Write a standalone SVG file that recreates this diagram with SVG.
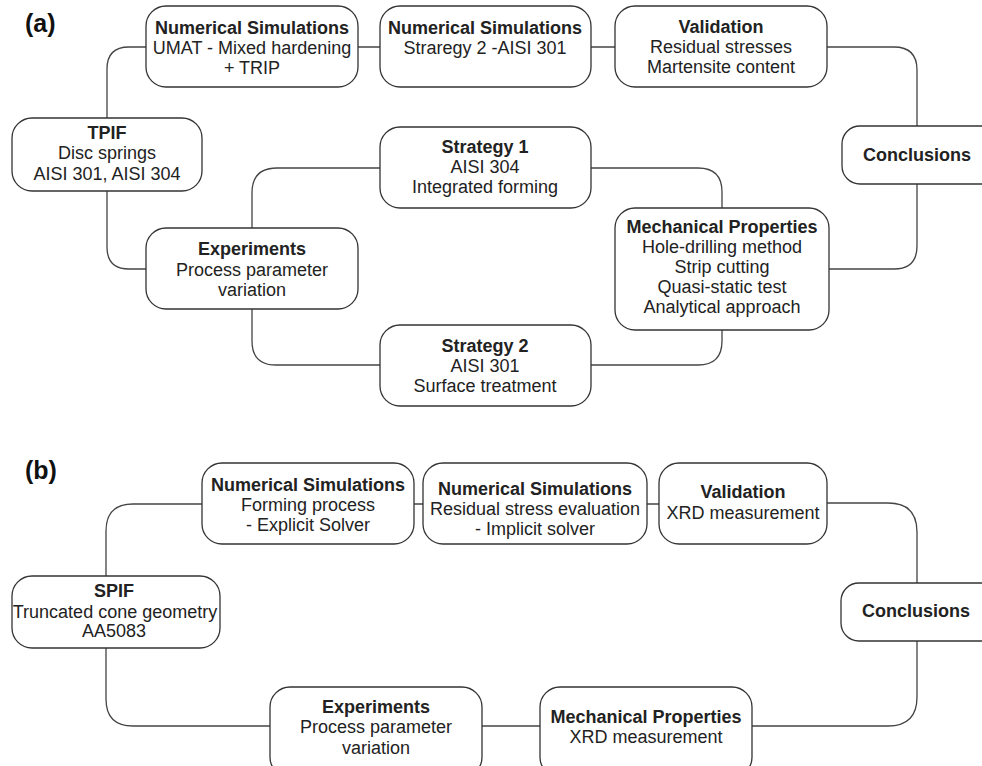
<svg xmlns="http://www.w3.org/2000/svg" width="982" height="766" viewBox="0 0 982 766">
<style>
.box{fill:#fff;stroke:#333;stroke-width:1.3}
.con{fill:none;stroke:#444;stroke-width:1.3}
text{font-family:"Liberation Sans",Arial,sans-serif;font-size:18px;fill:#222;text-anchor:middle}
.b{font-weight:bold}
.lbl{font-size:25px;font-weight:bold;text-anchor:start;fill:#111}
</style>
<rect width="982" height="766" fill="#fff"/>
<g id="connectors">
<!-- panel a -->
<path class="con" d="M358 47H380M591 47H615"/>
<path class="con" d="M107 118V69Q107 47 129 47H146"/>
<path class="con" d="M107 191V247Q107 269 129 269H146"/>
<path class="con" d="M252 228V193Q252 168 277 168H380"/>
<path class="con" d="M252 309V341Q252 365 276 365H380"/>
<path class="con" d="M591 168H698Q722 168 722 192V208"/>
<path class="con" d="M722 330V341Q722 365 698 365H591"/>
<path class="con" d="M827 47H894Q917 47 917 70V126"/>
<path class="con" d="M829 269H894Q917 269 917 246V184"/>
<!-- panel b -->
<path class="con" d="M414 504H423M647 504H659"/>
<path class="con" d="M106 576V531Q106 504 133 504H202"/>
<path class="con" d="M106 648V699Q106 726 133 726H270"/>
<path class="con" d="M482 726H540"/>
<path class="con" d="M827 503H888Q917 503 917 532V583"/>
<path class="con" d="M917 641V697Q917 726 888 726H752"/>
</g>
<text class="lbl" x="25" y="32">(a)</text>
<text class="lbl" x="25" y="479">(b)</text>
<g id="a-ns1"><rect class="box" x="146" y="6" width="212" height="81" rx="20"/>
<text class="b" x="252" y="34">Numerical Simulations</text><text x="252" y="54">UMAT - Mixed hardening</text><text x="252" y="74">+ TRIP</text></g>
<g id="a-ns2"><rect class="box" x="380" y="6" width="211" height="81" rx="20"/>
<text class="b" x="485" y="34">Numerical Simulations</text><text x="485" y="54">Straregy 2 -AISI 301</text></g>
<g id="a-validation"><rect class="box" x="615" y="6" width="212" height="81" rx="20"/>
<text class="b" x="721" y="33">Validation</text><text x="721" y="53">Residual stresses</text><text x="721" y="73">Martensite content</text></g>
<g id="a-conclusions"><rect class="box" x="842" y="126" width="160" height="58" rx="18"/>
<text class="b" x="917" y="161">Conclusions</text></g>
<g id="a-tpif"><rect class="box" x="12" y="118" width="190" height="73" rx="20"/>
<text class="b" x="107" y="139">TPIF</text><text x="107" y="159">Disc springs</text><text x="107" y="180">AISI 301, AISI 304</text></g>
<g id="a-experiments"><rect class="box" x="146" y="228" width="212" height="81" rx="20"/>
<text class="b" x="252" y="255">Experiments</text><text x="252" y="276">Process parameter</text><text x="252" y="296">variation</text></g>
<g id="a-strategy1"><rect class="box" x="380" y="127" width="211" height="81" rx="20"/>
<text class="b" x="485" y="153">Strategy 1</text><text x="485" y="173">AISI 304</text><text x="485" y="193">Integrated forming</text></g>
<g id="a-strategy2"><rect class="box" x="380" y="325" width="211" height="81" rx="20"/>
<text class="b" x="485" y="352">Strategy 2</text><text x="485" y="372">AISI 301</text><text x="485" y="392">Surface treatment</text></g>
<g id="a-mech"><rect class="box" x="615" y="208" width="214" height="122" rx="20"/>
<text class="b" x="722" y="233">Mechanical Properties</text><text x="722" y="253">Hole-drilling method</text><text x="722" y="273">Strip cutting</text><text x="722" y="293">Quasi-static test</text><text x="722" y="313">Analytical approach</text></g>
<g id="b-ns1"><rect class="box" x="202" y="463" width="212" height="81" rx="20"/>
<text class="b" x="308" y="491">Numerical Simulations</text><text x="308" y="511">Forming process</text><text x="308" y="531">- Explicit Solver</text></g>
<g id="b-ns2"><rect class="box" x="423" y="463" width="224" height="81" rx="20"/>
<text class="b" x="535" y="495">Numerical Simulations</text><text x="535" y="515">Residual stress evaluation</text><text x="535" y="535">- Implicit solver</text></g>
<g id="b-validation"><rect class="box" x="659" y="463" width="168" height="81" rx="20"/>
<text class="b" x="743" y="498">Validation</text><text x="743" y="519">XRD measurement</text></g>
<g id="b-conclusions"><rect class="box" x="841" y="583" width="160" height="58" rx="18"/>
<text class="b" x="916" y="617">Conclusions</text></g>
<g id="b-spif"><rect class="box" x="12" y="576" width="208" height="72" rx="20"/>
<text class="b" x="114" y="597">SPIF</text><text x="115" y="618">Truncated cone geometry</text><text x="114" y="637">AA5083</text></g>
<g id="b-experiments"><rect class="box" x="270" y="687" width="212" height="90" rx="20"/>
<text class="b" x="376" y="713">Experiments</text><text x="376" y="733">Process parameter</text><text x="376" y="754">variation</text></g>
<g id="b-mech"><rect class="box" x="540" y="687" width="212" height="90" rx="20"/>
<text class="b" x="646" y="723">Mechanical Properties</text><text x="646" y="743">XRD measurement</text></g>
</svg>
